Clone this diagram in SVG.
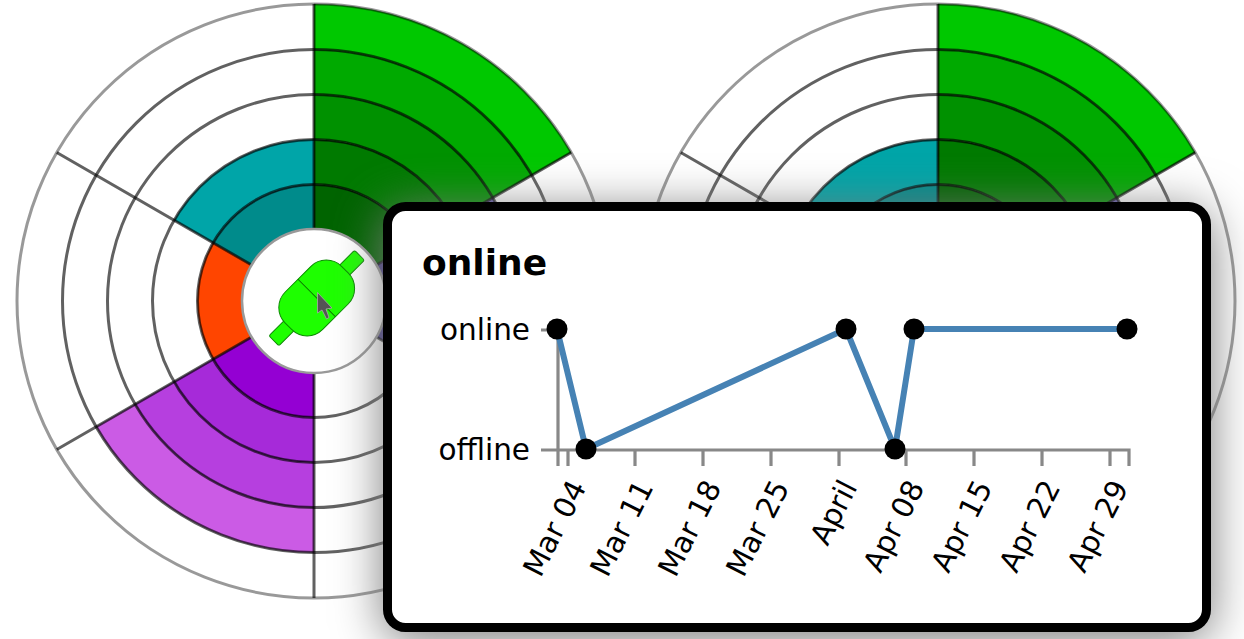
<svg xmlns="http://www.w3.org/2000/svg" xmlns:xlink="http://www.w3.org/1999/xlink" width="1244" height="639" viewBox="0 0 1244 639">
<style>
text{font-family:"DejaVu Sans","Liberation Sans",sans-serif;fill:#000}
.grid{fill:none;stroke:#000;stroke-opacity:.62;stroke-width:3}
.outer{fill:none;stroke:#000;stroke-opacity:.4;stroke-width:3}
.sec{stroke:#000;stroke-opacity:.35;stroke-width:1}
.axis{fill:none;stroke:#888;stroke-width:3.2}
.lbl{font-size:29.5px}
.ax{font-size:29.5px;text-anchor:end}
.pt{fill:#000}
</style>
<defs>
<filter id="shadow" x="-20%" y="-30%" width="140%" height="160%" color-interpolation-filters="sRGB">
<feDropShadow dx="0" dy="8" stdDeviation="24" flood-color="#7a7a7a" flood-opacity="1"/>
</filter>
<g id="chart">
<circle r="297" fill="#fff"/>
<g class="sec">
<path fill="#006400" d="M0,-72A72,72 0 0 1 62.35,-36L100.9,-58.25A116.5,116.5 0 0 0 0,-116.5Z"/>
<path fill="#007a00" d="M0,-116.5A116.5,116.5 0 0 1 100.9,-58.25L139.86,-80.75A161.5,161.5 0 0 0 0,-161.5Z"/>
<path fill="#009100" d="M0,-161.5A161.5,161.5 0 0 1 139.86,-80.75L178.83,-103.25A206.5,206.5 0 0 0 0,-206.5Z"/>
<path fill="#00aa00" d="M0,-206.5A206.5,206.5 0 0 1 178.83,-103.25L217.8,-125.75A251.5,251.5 0 0 0 0,-251.5Z"/>
<path fill="#00c800" d="M0,-251.5A251.5,251.5 0 0 1 217.8,-125.75L257.2,-148.5A297,297 0 0 0 0,-297Z"/>
<path fill="#483d8b" d="M62.35,-36A72,72 0 0 1 62.35,36L100.9,58.25A116.5,116.5 0 0 0 100.9,-58.25Z"/>
<path fill="#5a4f9e" d="M100.9,-58.25A116.5,116.5 0 0 1 100.9,58.25L139.86,80.75A161.5,161.5 0 0 0 139.86,-80.75Z"/>
<path fill="#6a60b0" d="M139.86,-80.75A161.5,161.5 0 0 1 139.86,80.75L178.83,103.25A206.5,206.5 0 0 0 178.83,-103.25Z"/>
<path fill="#9400d3" d="M0,72A72,72 0 0 1 -62.35,36L-100.9,58.25A116.5,116.5 0 0 0 0,116.5Z"/>
<path fill="#a62ad9" d="M0,116.5A116.5,116.5 0 0 1 -100.9,58.25L-139.86,80.75A161.5,161.5 0 0 0 0,161.5Z"/>
<path fill="#b63fdf" d="M0,161.5A161.5,161.5 0 0 1 -139.86,80.75L-178.83,103.25A206.5,206.5 0 0 0 0,206.5Z"/>
<path fill="#cb5be5" d="M0,206.5A206.5,206.5 0 0 1 -178.83,103.25L-217.8,125.75A251.5,251.5 0 0 0 0,251.5Z"/>
<path fill="#ff4500" d="M-62.35,36A72,72 0 0 1 -62.35,-36L-100.9,-58.25A116.5,116.5 0 0 0 -100.9,58.25Z"/>
<path fill="#008b8b" d="M-62.35,-36A72,72 0 0 1 0,-72L0,-116.5A116.5,116.5 0 0 0 -100.9,-58.25Z"/>
<path fill="#00a5a8" d="M-100.9,-58.25A116.5,116.5 0 0 1 0,-116.5L0,-161.5A161.5,161.5 0 0 0 -139.86,-80.75Z"/>
</g>
<circle class="grid" r="116.5"/>
<circle class="grid" r="161.5"/>
<circle class="grid" r="206.5"/>
<circle class="grid" r="251.5"/>
<path class="grid" d="M0,-72V-297M62.35,-36L257.2,-148.5M62.35,36L257.2,148.5M0,72V297M-62.35,36L-257.2,148.5M-62.35,-36L-257.2,-148.5"/>
<circle class="outer" r="297"/>
<circle r="72" fill="#fff" stroke="#999" stroke-width="2.5"/>
<g transform="translate(2.7,-3) rotate(-45)">
<rect x="-60.5" y="-7" width="121" height="14" rx="2" fill="#1eff00" stroke="#0a8a00" stroke-width="1"/>
<rect x="-40" y="-26.5" width="80" height="53" rx="22" fill="#1eff00" stroke="#0a8a00" stroke-width="1"/>
<path d="M0,-26.5V26.5" stroke="#0a6a00" stroke-width="1"/>
</g>
<path d="M3.5,-8.5L3.5,12L8,9L12.5,18L15,16.5L12,8L18,7Z" fill="#555" stroke="#aaa" stroke-width=".8"/>
</g>
</defs>
<g id="chart-left"><use xlink:href="#chart" href="#chart" x="314" y="301"/></g>
<g id="chart-right"><use xlink:href="#chart" href="#chart" x="938" y="301"/></g>
<g id="card">
<rect x="387.5" y="206.5" width="819" height="421" rx="18" fill="#fff" stroke="#000" stroke-width="9" filter="url(#shadow)"/>
<text x="422" y="275" font-size="36" font-weight="700">online</text>
<g id="axes">
<path class="axis" d="M541,330H558V466M541,450H1129V466M568,450V466M635,450V466M703,450V466M771,450V466M839,450V466M906,450V466M974,450V466M1042,450V466M1110,450V466"/>
<text class="lbl" x="530" y="340" text-anchor="end">online</text>
<text class="lbl" x="530" y="460" text-anchor="end">offline</text>
<text class="ax" transform="translate(587,487) rotate(-63)">Mar 04</text>
<text class="ax" transform="translate(654,487) rotate(-63)">Mar 11</text>
<text class="ax" transform="translate(722,487) rotate(-63)">Mar 18</text>
<text class="ax" transform="translate(790,487) rotate(-63)">Mar 25</text>
<text class="ax" transform="translate(858,487) rotate(-63)">April</text>
<text class="ax" transform="translate(925,487) rotate(-63)">Apr 08</text>
<text class="ax" transform="translate(993,487) rotate(-63)">Apr 15</text>
<text class="ax" transform="translate(1061,487) rotate(-63)">Apr 22</text>
<text class="ax" transform="translate(1129,487) rotate(-63)">Apr 29</text>
</g>
<g id="connectors">
<path d="M557,329L586,449L846,329L895,449L914,329H1127" fill="none" stroke="#4682b4" stroke-width="6"/>
</g>
<circle class="pt" cx="557" cy="329" r="10.5"/>
<circle class="pt" cx="586" cy="449" r="10.5"/>
<circle class="pt" cx="846" cy="329" r="10.5"/>
<circle class="pt" cx="895" cy="449" r="10.5"/>
<circle class="pt" cx="914" cy="329" r="10.5"/>
<circle class="pt" cx="1127" cy="329" r="10.5"/>
</g>
</svg>
